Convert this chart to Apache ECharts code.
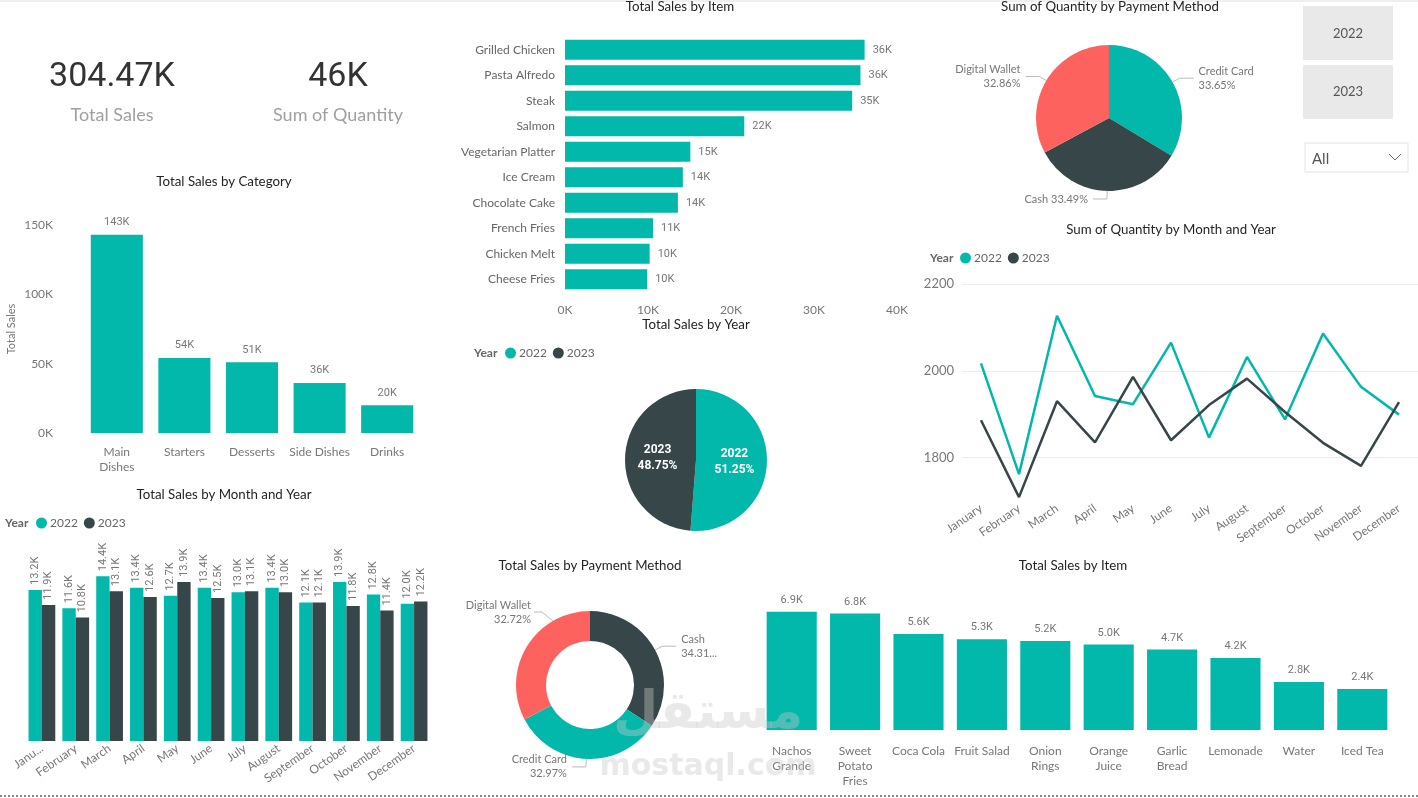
<!DOCTYPE html>
<html>
<head>
<meta charset="utf-8">
<title>Restaurant Sales Dashboard</title>
<script src="https://cdn.jsdelivr.net/npm/echarts@6/dist/echarts.min.js"></script>
<style>
html, body { margin: 0; padding: 0; background: #fff; }
#main { width: 1418px; height: 798px; }
</style>
</head>
<body>
<div id="main"></div>
<script>
var TEAL = '#01B8AA', DARK = '#374649', RED = '#FD625E';
var FONT = "'Segoe UI', Lato, sans-serif";
var NUMFONT = "Roboto, sans-serif";
var LABEL = '#777';

// KPI cards
var totalSales = 304470;
var sumQuantity = 46000;

// Total Sales by Category
var categories = ['Main\nDishes', 'Starters', 'Desserts', 'Side Dishes', 'Drinks'];
var categorySales = [143000, 54000, 51000, 36000, 20000];

// Total Sales by Item (top 10)
var topItems = ['Grilled Chicken', 'Pasta Alfredo', 'Steak', 'Salmon', 'Vegetarian Platter',
  'Ice Cream', 'Chocolate Cake', 'French Fries', 'Chicken Melt', 'Cheese Fries'];
var topItemSales = [36100, 35600, 34600, 21600, 15100, 14200, 13600, 10600, 10200, 9900];

// Total Sales by Item (bottom 10)
var lowItems = ['Nachos\nGrande', 'Sweet\nPotato\nFries', 'Coca Cola', 'Fruit Salad', 'Onion\nRings',
  'Orange\nJuice', 'Garlic\nBread', 'Lemonade', 'Water', 'Iced Tea'];
var lowItemSales = [6900, 6800, 5600, 5300, 5200, 5000, 4700, 4200, 2800, 2400];

// payment methods (percent shares)
var qtyPayNames = ['Credit Card', 'Cash', 'Digital Wallet'];
var qtyPayShare = [33.65, 33.49, 32.86];
var salesPayNames = ['Cash', 'Credit Card', 'Digital Wallet'];
var salesPayShare = [34.31, 32.97, 32.72];
var payColors = { 'Credit Card': TEAL, 'Cash': DARK, 'Digital Wallet': RED };

// years
var years = ['2022', '2023'];
var yearSales = [156040, 148430];

// months
var months = ['January', 'February', 'March', 'April', 'May', 'June', 'July',
  'August', 'September', 'October', 'November', 'December'];
var qty2022 = [2017, 1762, 2127, 1942, 1923, 2065, 1846, 2032, 1888, 2086, 1963, 1899];
var qty2023 = [1886, 1709, 1930, 1835, 1986, 1840, 1921, 1982, 1905, 1834, 1781, 1928];
var sales2022 = [13200, 11600, 14400, 13400, 12700, 13400, 13000, 13400, 12100, 13900, 12800, 12000];
var sales2023 = [11900, 10800, 13100, 12600, 13900, 12500, 13100, 13000, 12100, 11800, 11400, 12200];

var kFmt = function (p) { return Math.round(p.value / 1000) + 'K'; };
var k1Fmt = function (p) { return (p.value / 1000).toFixed(1) + 'K'; };

var titleStyle = { fontSize: 13.3, fontWeight: 'normal', color: '#252423', fontFamily: FONT };
var titles = [
  { text: 'Total Sales by Category', left: 224, top: 175 },
  { text: 'Total Sales by Item', left: 680, top: 0 },
  { text: 'Sum of Quantity by Payment Method', left: 1110, top: 0 },
  { text: 'Sum of Quantity by Month and Year', left: 1171, top: 223 },
  { text: 'Total Sales by Year', left: 696, top: 318 },
  { text: 'Total Sales by Month and Year', left: 224, top: 488 },
  { text: 'Total Sales by Payment Method', left: 590, top: 559 },
  { text: 'Total Sales by Item', left: 1073, top: 559 }
].map(function (t) {
  t.textAlign = 'center';
  t.padding = 0;
  t.textStyle = titleStyle;
  return t;
});

var legends = [
  { left: 960, top: 252 },
  { left: 505, top: 347 },
  { left: 36, top: 517 }
].map(function (l) {
  l.data = years;
  l.icon = 'circle';
  l.itemWidth = 11;
  l.itemHeight = 11;
  l.itemGap = 6;
  l.padding = 0;
  l.selectedMode = false;
  l.textStyle = { color: '#666', fontSize: 12, fontFamily: FONT, padding: [0, 0, 0, -2] };
  return l;
});

function yearLabel(x, y) {
  return { type: 'text', x: x, y: y, style: { text: 'Year', font: 'bold 12px ' + FONT, fill: '#666', verticalAlign: 'middle' } };
}

function pieData(names, values) {
  return names.map(function (n, i) {
    return { name: n, value: values[i], itemStyle: { color: payColors[n] } };
  });
}

var qtyPieData = pieData(qtyPayNames, qtyPayShare);
qtyPieData[1].label = { formatter: '{b} {d}%' };
var salesPieData = pieData(salesPayNames, salesPayShare);
salesPieData[0].label = { formatter: function (p) { return p.name + '\n' + p.percent.toFixed(2).slice(0, 5) + '...'; } };

var outerLabel = { color: LABEL, fontSize: 11, lineHeight: 14, fontFamily: FONT, formatter: '{b}\n{d}%' };
var outerLine = { length: 8, length2: 14, lineStyle: { color: '#bbb', width: 1 } };

var myChart = echarts.init(document.getElementById('main'));

var option = {
  animation: false,
  textStyle: { fontFamily: FONT },
  title: titles,
  legend: legends,
  grid: [
    { left: 83, top: 225, width: 338, height: 208 },
    { left: 565, top: 37, width: 332, height: 255 },
    { left: 962, top: 284, width: 456, height: 217 },
    { left: 25, top: 558, width: 406, height: 183 },
    { left: 760, top: 593, width: 634, height: 137 }
  ],
  xAxis: [
    { gridIndex: 0, type: 'category', data: categories, axisLine: { show: false }, axisTick: { show: false },
      axisLabel: { color: LABEL, fontSize: 12, margin: 12, lineHeight: 15, interval: 0 } },
    { gridIndex: 1, type: 'value', min: 0, max: 40000, interval: 10000, splitLine: { show: false },
      axisLabel: { color: LABEL, fontSize: 12, margin: 12, formatter: function (v) { return v / 1000 + 'K'; } } },
    { gridIndex: 2, type: 'category', data: months, axisLine: { show: false }, axisTick: { show: false },
      axisLabel: { color: LABEL, fontSize: 12, margin: 6, rotate: 35, interval: 0 } },
    { gridIndex: 3, type: 'category', data: months, axisLine: { show: false }, axisTick: { show: false },
      axisLabel: { color: LABEL, fontSize: 12, margin: 6, rotate: 35, interval: 0,
        formatter: function (v, i) { return i === 0 ? v.slice(0, 4) + '...' : v; } } },
    { gridIndex: 4, type: 'category', data: lowItems, axisLine: { show: false }, axisTick: { show: false },
      axisLabel: { color: LABEL, fontSize: 12, margin: 14, lineHeight: 15, interval: 0 } }
  ],
  yAxis: [
    { gridIndex: 0, type: 'value', min: 0, max: 150000, interval: 50000, splitLine: { show: false },
      axisLabel: { color: LABEL, fontSize: 12, margin: 30, formatter: function (v) { return v / 1000 + 'K'; } },
      name: 'Total Sales', nameLocation: 'middle', nameGap: 66, nameTextStyle: { color: LABEL, fontSize: 11 } },
    { gridIndex: 1, type: 'category', data: topItems, inverse: true, axisLine: { show: false }, axisTick: { show: false },
      axisLabel: { color: '#666', fontSize: 12, margin: 10 } },
    { gridIndex: 2, type: 'value', min: 1700, max: 2200, interval: 100,
      axisLabel: { color: LABEL, fontSize: 13, margin: 8, formatter: function (v) { return v % 200 === 0 ? v : ''; } },
      splitLine: { lineStyle: { color: ['rgba(0,0,0,0)', '#ececec'] } } },
    { gridIndex: 3, type: 'value', min: 0, max: 16000, show: false },
    { gridIndex: 4, type: 'value', min: 0, max: 8000, show: false }
  ],
  series: [
    { type: 'bar', name: 'Total Sales', xAxisIndex: 0, yAxisIndex: 0, data: categorySales, barCategoryGap: '23%',
      itemStyle: { color: TEAL },
      label: { show: true, position: 'top', distance: 7, formatter: kFmt, color: LABEL, fontSize: 11, fontFamily: NUMFONT } },
    { type: 'bar', name: 'Total Sales', xAxisIndex: 1, yAxisIndex: 1, data: topItemSales, barCategoryGap: '22%',
      itemStyle: { color: TEAL },
      label: { show: true, position: 'right', distance: 8, formatter: kFmt, color: LABEL, fontSize: 11, fontFamily: NUMFONT } },
    { type: 'pie', name: 'Sum of Quantity', center: [1109, 118], radius: 73, startAngle: 90,
      data: qtyPieData, label: outerLabel, labelLine: outerLine },
    { type: 'line', name: '2022', xAxisIndex: 2, yAxisIndex: 2, data: qty2022, showSymbol: false,
      lineStyle: { width: 2.5, color: TEAL }, itemStyle: { color: TEAL } },
    { type: 'line', name: '2023', xAxisIndex: 2, yAxisIndex: 2, data: qty2023, showSymbol: false,
      lineStyle: { width: 2.5, color: DARK }, itemStyle: { color: DARK } },
    { type: 'pie', name: 'Total Sales by Year', center: [696, 460], radius: 71, startAngle: 90,
      data: years.map(function (y, i) { return { name: y, value: yearSales[i], itemStyle: { color: i === 0 ? TEAL : DARK } }; }),
      label: { position: 'inside', formatter: '{b}\n{d}%', color: '#fff', fontWeight: 'bold', fontSize: 12, lineHeight: 16, fontFamily: NUMFONT } },
    { type: 'bar', name: '2022', xAxisIndex: 3, yAxisIndex: 3, data: sales2022, barGap: '0%', barCategoryGap: '21%',
      itemStyle: { color: TEAL },
      label: { show: true, position: 'top', rotate: 90, align: 'left', verticalAlign: 'middle', distance: 5,
        formatter: k1Fmt, color: LABEL, fontSize: 11, fontFamily: NUMFONT } },
    { type: 'bar', name: '2023', xAxisIndex: 3, yAxisIndex: 3, data: sales2023, barGap: '0%', barCategoryGap: '21%',
      itemStyle: { color: DARK },
      label: { show: true, position: 'top', rotate: 90, align: 'left', verticalAlign: 'middle', distance: 5,
        formatter: k1Fmt, color: LABEL, fontSize: 11, fontFamily: NUMFONT } },
    { type: 'pie', name: 'Total Sales by Payment Method', center: [590, 685], radius: [44, 74], startAngle: 90,
      data: salesPieData, label: outerLabel, labelLine: outerLine,
      // Digital Wallet label sits higher, as in the Power BI layout
      labelLayout: function (p) {
        if (p.dataIndex !== 2) return {};
        return { x: 531, y: 612, align: 'right', verticalAlign: 'middle',
          labelLinePoints: [[553, 621], [542, 612], [534, 612]] };
      } },
    { type: 'bar', name: 'Total Sales', xAxisIndex: 4, yAxisIndex: 4, data: lowItemSales, barCategoryGap: '21%',
      itemStyle: { color: TEAL },
      label: { show: true, position: 'top', distance: 6, formatter: k1Fmt, color: LABEL, fontSize: 11, fontFamily: NUMFONT } }
  ],
  graphic: [
    { type: 'rect', shape: { x: 0, y: 0, width: 1418, height: 2 }, style: { fill: '#f0f0f0' } },
    { type: 'line', shape: { x1: 0, y1: 796, x2: 1418, y2: 796 }, style: { stroke: '#888', lineWidth: 2, lineDash: [2, 2] } },
    // KPI cards
    { type: 'text', x: 112, y: 77, style: { text: (totalSales / 1000).toFixed(2) + 'K', font: '34px ' + NUMFONT, fill: '#333', align: 'center', verticalAlign: 'middle' } },
    { type: 'text', x: 112, y: 115, style: { text: 'Total Sales', font: '18px ' + FONT, fill: '#a0a0a0', align: 'center', verticalAlign: 'middle' } },
    { type: 'text', x: 338, y: 77, style: { text: Math.round(sumQuantity / 1000) + 'K', font: '34px ' + NUMFONT, fill: '#333', align: 'center', verticalAlign: 'middle' } },
    { type: 'text', x: 338, y: 115, style: { text: 'Sum of Quantity', font: '18px ' + FONT, fill: '#a0a0a0', align: 'center', verticalAlign: 'middle' } },
    // year slicer
    { type: 'rect', shape: { x: 1303, y: 6, width: 90, height: 54 }, style: { fill: '#e9e9e9' } },
    { type: 'text', x: 1348, y: 34, style: { text: years[0], font: '13px ' + FONT, fill: '#555', align: 'center', verticalAlign: 'middle' } },
    { type: 'rect', shape: { x: 1303, y: 65, width: 90, height: 54 }, style: { fill: '#e9e9e9' } },
    { type: 'text', x: 1348, y: 92, style: { text: years[1], font: '13px ' + FONT, fill: '#555', align: 'center', verticalAlign: 'middle' } },
    { type: 'rect', shape: { x: 1305, y: 143, width: 103, height: 29 }, style: { fill: '#fff', stroke: '#e4e4e4', lineWidth: 1 } },
    { type: 'text', x: 1312, y: 159, style: { text: 'All', font: '15px ' + FONT, fill: '#555', verticalAlign: 'middle' } },
    { type: 'polyline', shape: { points: [[1389, 154], [1395, 160], [1401, 154]] }, style: { stroke: '#666', lineWidth: 1, fill: null } },
    // legend captions
    yearLabel(930, 258),
    yearLabel(474, 353),
    yearLabel(5, 523),
    // watermark
    { type: 'text', x: 708, y: 714, z: 100, style: { text: 'مستقل', font: 'bold 52px "DejaVu Sans"', fill: 'rgba(200,200,200,0.4)', align: 'center', verticalAlign: 'middle' } },
    { type: 'text', x: 708, y: 767, z: 100, style: { text: 'mostaql.com', font: 'bold 30px "DejaVu Sans"', fill: 'rgba(200,200,200,0.4)', align: 'center', verticalAlign: 'middle' } }
  ]
};

myChart.setOption(option);
</script>
</body>
</html>
